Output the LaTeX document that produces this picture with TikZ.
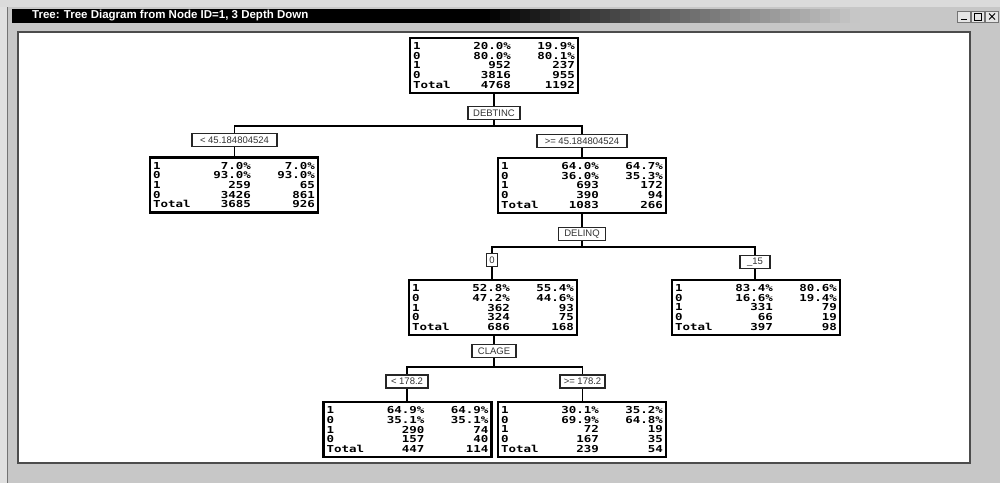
\documentclass[tikz,border=0pt]{standalone}
\usepackage{fontspec}
\setmainfont{Liberation Sans}
\newfontfamily\datafont[FakeStretch=1.3]{DejaVu Sans Mono}
\newcommand\drow[3]{\makebox[28pt][l]{#1}\makebox[70pt][r]{#2}\makebox[64pt][r]{#3}}
\tikzset{
  databox/.style={draw=black, line width=2.4pt, fill=white, minimum width=168pt,
    minimum height=55pt, inner xsep=3pt, inner ysep=2pt, align=left,
    font=\datafont\bfseries\fontsize{9.6}{9.7}\selectfont},
  splitlab/.style={draw=black!85, line width=1.3pt, fill=white, inner sep=1pt,
    minimum height=13pt, font=\fontsize{9.5}{9.5}\selectfont, text=black!80},
  conn/.style={draw=black, line width=1.8pt},
  wbtn/.style={draw=black!55, line width=0.6pt, fill=black!10, minimum width=13pt, minimum height=11pt, inner sep=0pt}
}
\begin{document}
\begin{tikzpicture}[x=1pt,y=-1pt]
\useasboundingbox (0,0) rectangle (1000,483);
% window background
\fill[black!22] (0,0) rectangle (1000,483);
\fill[black!12] (0,0) rectangle (7,483);
\draw[black!55, line width=0.8pt] (7.5,6) -- (7.5,483);
\fill[black!14] (0,0) rectangle (1000,7);
% title bar with gradient
\fill[black] (12,9) rectangle (480,23);
\foreach \i in {0,...,51} {
  \pgfmathsetmacro\pc{max(22,100-\i*2.1)}
  \fill[black!\pc] (480+\i*10,9) rectangle (490.5+\i*10,23);
}
\node[anchor=west, text=white, font=\bfseries\fontsize{11.5}{11.5}\selectfont, inner sep=0pt] (title) at (32,16) {Tree: Tree Diagram from Node ID=1, 3 Depth Down};
% window buttons
\node[wbtn] (bmin) at (964,16.5) {};
\node[wbtn] (bmax) at (978,16.5) {};
\node[wbtn] (bcls) at (992,16.5) {};
\draw[black, line width=1.2pt] ([xshift=-3pt,yshift=-3pt]bmin.center) -- ([xshift=3pt,yshift=-3pt]bmin.center);
\draw[black, line width=0.8pt] ([xshift=-3.5pt,yshift=-3.5pt]bmax.center) rectangle ([xshift=3.5pt,yshift=3pt]bmax.center);
\draw[black, line width=1pt] ([xshift=-3pt,yshift=-3pt]bcls.center) -- ([xshift=3pt,yshift=3pt]bcls.center)
  ([xshift=-3pt,yshift=3pt]bcls.center) -- ([xshift=3pt,yshift=-3pt]bcls.center);
% canvas
\fill[white] (18,32) rectangle (970,463);
\draw[black!70, line width=1.2pt] (18,463) -- (18,32) -- (970,32) -- (970,463) -- cycle;

% data nodes
\node[databox] (n1) at (494,65.5) {\drow{1}{20.0\%}{19.9\%}\\\drow{0}{80.0\%}{80.1\%}\\\drow{1}{952}{237}\\\drow{0}{3816}{955}\\\drow{Total}{4768}{1192}};
\node[databox] (n2) at (234,185) {\drow{1}{7.0\%}{7.0\%}\\\drow{0}{93.0\%}{93.0\%}\\\drow{1}{259}{65}\\\drow{0}{3426}{861}\\\drow{Total}{3685}{926}};
\node[databox] (n3) at (582,185.5) {\drow{1}{64.0\%}{64.7\%}\\\drow{0}{36.0\%}{35.3\%}\\\drow{1}{693}{172}\\\drow{0}{390}{94}\\\drow{Total}{1083}{266}};
\node[databox] (n4) at (493,307.5) {\drow{1}{52.8\%}{55.4\%}\\\drow{0}{47.2\%}{44.6\%}\\\drow{1}{362}{93}\\\drow{0}{324}{75}\\\drow{Total}{686}{168}};
\node[databox] (n5) at (756,307.5) {\drow{1}{83.4\%}{80.6\%}\\\drow{0}{16.6\%}{19.4\%}\\\drow{1}{331}{79}\\\drow{0}{66}{19}\\\drow{Total}{397}{98}};
\node[databox] (n6) at (407.5,429.5) {\drow{1}{64.9\%}{64.9\%}\\\drow{0}{35.1\%}{35.1\%}\\\drow{1}{290}{74}\\\drow{0}{157}{40}\\\drow{Total}{447}{114}};
\node[databox] (n7) at (582,429.5) {\drow{1}{30.1\%}{35.2\%}\\\drow{0}{69.9\%}{64.8\%}\\\drow{1}{72}{19}\\\drow{0}{167}{35}\\\drow{Total}{239}{54}};

% split labels
\node[splitlab, minimum width=52pt] (s1) at (494,113) {DEBTINC};
\node[splitlab, minimum width=85pt] (l1) at (234.5,140) {< 45.184804524};
\node[splitlab, minimum width=90pt] (r1) at (582,141) {>= 45.184804524};
\node[splitlab, minimum width=47pt] (s2) at (582,234) {DELINQ};
\node[splitlab, minimum width=11pt] (l2) at (492,260) {0};
\node[splitlab, minimum width=30pt] (r2) at (755,262) {\_15};
\node[splitlab, minimum width=44pt] (s3) at (494,351) {CLAGE};
\node[splitlab, minimum width=42pt] (l3) at (407,381.5) {< 178.2};
\node[splitlab, minimum width=45pt] (r3) at (582.5,381.5) {>= 178.2};

% bus coordinates
\coordinate (h1) at (494,126);
\coordinate (h2) at (582,247);
\coordinate (h3) at (494,367);

% connectors
\draw[conn] (n1.south) -- (s1.north);
\draw[conn] (s1.south) -- (h1);
\draw[conn] (l1.north) -- (l1.north |- h1) -- (r1.north |- h1) -- (r1.north);
\draw[conn] (l1.south) -- (l1.south |- n2.north);
\draw[conn] (r1.south) -- (r1.south |- n3.north);
\draw[conn] (n3.south) -- (s2.north);
\draw[conn] (s2.south) -- (h2);
\draw[conn] (l2.north) -- (l2.north |- h2) -- (r2.north |- h2) -- (r2.north);
\draw[conn] (l2.south) -- (l2.south |- n4.north);
\draw[conn] (r2.south) -- (r2.south |- n5.north);
\draw[conn] (n4.south -| s3.north) -- (s3.north);
\draw[conn] (s3.south) -- (h3);
\draw[conn] (l3.north) -- (l3.north |- h3) -- (r3.north |- h3) -- (r3.north);
\draw[conn] (l3.south) -- (l3.south |- n6.north);
\draw[conn] (r3.south) -- (r3.south |- n7.north);
\end{tikzpicture}
\end{document}
